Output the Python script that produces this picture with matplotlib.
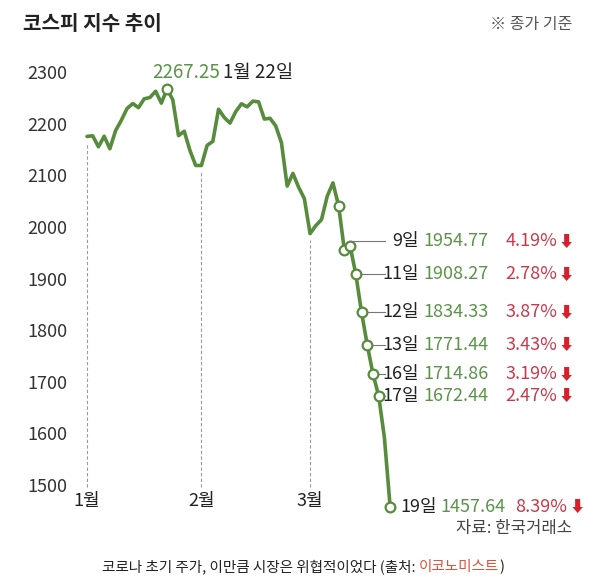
import matplotlib
matplotlib.use("Agg")
import matplotlib.pyplot as plt

plt.rcParams['font.family'] = ['Noto Sans CJK KR', 'DejaVu Sans']

# KOSPI daily closes (trading days), Jan 2 - Mar 19, 2020
dates = [
    "01-02", "01-03", "01-06", "01-07", "01-08", "01-09", "01-10",
    "01-13", "01-14", "01-15", "01-16", "01-17", "01-20", "01-21",
    "01-22", "01-23", "01-28", "01-29", "01-30", "01-31",
    "02-03", "02-04", "02-05", "02-06", "02-07", "02-10", "02-11",
    "02-12", "02-13", "02-14", "02-17", "02-18", "02-19", "02-20",
    "02-21", "02-24", "02-25", "02-26", "02-27", "02-28",
    "03-02", "03-03", "03-04", "03-05", "03-06", "03-09", "03-10",
    "03-11", "03-12", "03-13", "03-16", "03-17", "03-18", "03-19",
]
closes = [
    2175.17, 2176.46, 2155.07, 2175.54, 2151.31, 2186.45, 2206.39,
    2229.26, 2238.88, 2230.98, 2248.05, 2250.57, 2262.64, 2239.69,
    2267.25, 2246.13, 2176.72, 2185.28, 2148.00, 2119.01,
    2118.88, 2157.90, 2165.63, 2227.94, 2211.95, 2201.07, 2223.12,
    2238.38, 2232.52, 2243.59, 2242.17, 2208.88, 2210.34, 2195.50,
    2162.84, 2079.04, 2103.61, 2076.77, 2054.89, 1987.01,
    2002.51, 2014.15, 2059.33, 2085.26, 2040.22, 1954.77, 1962.93,
    1908.27, 1834.33, 1771.44, 1714.86, 1672.44, 1591.20, 1457.64,
]
yticks = [1500, 1600, 1700, 1800, 1900, 2000, 2100, 2200, 2300]
month_labels = ["1월", "2월", "3월"]
month_dates = ["01-02", "02-03", "02-28"]
peak_date = "01-22"
circle_dates = ["01-22", "03-06", "03-09", "03-10", "03-11", "03-12",
                "03-13", "03-16", "03-17", "03-19"]
annot_dates = ["03-09", "03-11", "03-12", "03-13", "03-16", "03-17", "03-19"]
annot_pct = [4.19, 2.78, 3.87, 3.43, 3.19, 2.47, 8.39]

W, H = 609, 582
GREEN = "#568c3c"
GREEN_TXT = "#5b9349"
RED_TXT = "#c73a4c"
RED_ARROW = "#d8202c"
DARK = "#222222"

fig = plt.figure(figsize=(W / 100, H / 100), dpi=100)
fig.patch.set_facecolor("white")

# axes placed by pixel box: left 70, right 609, top 0, bottom 490
ax = fig.add_axes([70 / W, (H - 490) / H, (W - 70) / W, 490 / H])
ax.set_xlim(-2.97, 91.26)
ax.set_ylim(1490.4, 2439.45)
for s in ax.spines.values():
    s.set_visible(False)

x = list(range(len(dates)))
ax.plot(x, closes, color=GREEN, lw=2.6, solid_joinstyle="round",
        solid_capstyle="round", clip_on=False, zorder=3)

ci = [dates.index(d) for d in circle_dates]
ax.plot(ci, [closes[i] for i in ci], "o", ms=7, mfc="white", mec=GREEN,
        mew=1.6, clip_on=False, zorder=4)

# month guides
mi = [dates.index(d) for d in month_dates]
ax.vlines(mi, 1497, [closes[i] - 12 for i in mi], colors="#9a9a9a",
          linestyles=(0, (3, 2)), lw=0.8, zorder=1)
ax.set_xticks(mi)
ax.set_xticklabels(month_labels, fontsize=13, color=DARK)
ax.set_yticks(yticks)
ax.set_yticklabels([str(v) for v in yticks], fontsize=13, color="#333333")
ax.tick_params(length=0)
ax.tick_params(axis="x", pad=1.5)
ax.tick_params(axis="y", pad=2)


def img(i, v):
    # data -> image pixel coords (origin top-left)
    px, py = ax.transData.transform((i, v))
    return px, H - py


def ftext(px, py, s, **kw):
    return fig.text(px / W, 1 - py / H, s, **kw)


# peak label
pk = dates.index(peak_date)
ppx, ppy = img(pk, closes[pk])
ftext(ppx + 53, ppy - 16, f"{closes[pk]:.2f}", ha="right", va="center",
      fontsize=13.5, color=GREEN_TXT)
ftext(ppx + 56, ppy - 16, "1월 22일", ha="left", va="center",
      fontsize=13.5, color=DARK)

# right-hand labels
row_shift = {"03-09": -9}
for d, pct in zip(annot_dates, annot_pct):
    i = dates.index(d)
    v = closes[i]
    px, py = img(i, v)
    day = f"{int(d[-2:])}일"
    if d == annot_dates[-1]:
        ftext(400, py, day, ha="left", va="center", fontsize=13, color=DARK)
        ftext(440, py, f"{v:.2f}", ha="left", va="center", fontsize=13,
              color=GREEN_TXT)
        ftext(567, py, f"{pct:.2f}%", ha="right", va="center", fontsize=13,
              color=RED_TXT)
        ftext(570, py, "⬇", ha="left", va="center", fontsize=11,
              color=RED_ARROW)
        continue
    ly = py + row_shift.get(d, 0)
    fig.add_artist(plt.Line2D([(px + 5) / W, 385 / W], [1 - ly / H, 1 - ly / H],
                              color="#777777", lw=0.8))
    ftext(419, ly, day, ha="right", va="center", fontsize=13, color=DARK)
    ftext(423, ly, f"{v:.2f}", ha="left", va="center", fontsize=13,
          color=GREEN_TXT)
    ftext(557, ly, f"{pct:.2f}%", ha="right", va="center", fontsize=13,
          color=RED_TXT)
    ftext(559, ly, "⬇", ha="left", va="center", fontsize=11, color=RED_ARROW)

# header
ftext(23, 23, "코스피 지수 추이", ha="left", va="center", fontsize=14.5,
      fontweight="bold", color=DARK)
ftext(572, 25, "※ 종가 기준", ha="right", va="center", fontsize=11.5,
      color="#555555")
ftext(572, 528, "자료: 한국거래소", ha="right", va="center", fontsize=12,
      color="#444444")

# caption with coloured source
r = fig.canvas.get_renderer()
parts = [("코로나 초기 주가, 이만큼 시장은 위협적이었다 (출처: ", DARK),
         ("이코노미스트", "#e0503c"), (")", DARK)]
cx = 102
for s, c in parts:
    t = ftext(cx, 567, s, ha="left", va="center", fontsize=10.5,
              fontweight="medium", color=c)
    cx += t.get_window_extent(r).width

fig.savefig("out.png", dpi=100, facecolor="white")
